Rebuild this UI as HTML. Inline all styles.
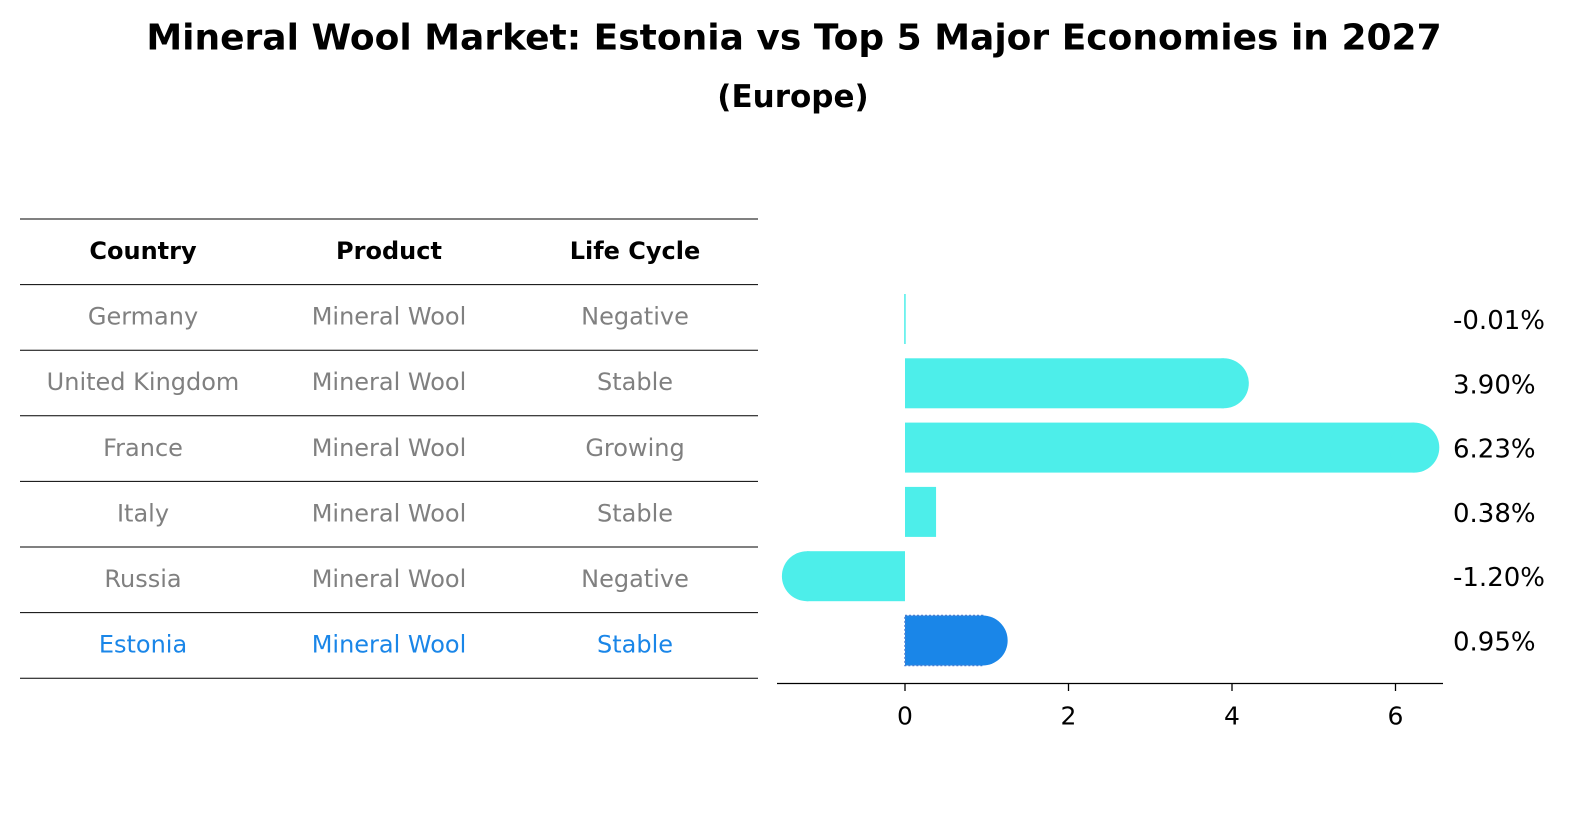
<!DOCTYPE html>
<html><head><meta charset="utf-8"><style>
body{margin:0;background:#fff;font-family:"DejaVu Sans","Liberation Sans",sans-serif;}
svg text{font-family:"DejaVu Sans","Liberation Sans",sans-serif;}
</style></head><body>
<svg id="c" width="1596" height="823">
<text x="794" y="38" text-anchor="middle" dominant-baseline="central" font-size="36" font-weight="bold">Mineral Wool Market: Estonia vs Top 5 Major Economies in 2027</text>
<text x="793" y="97" text-anchor="middle" dominant-baseline="central" font-size="31" font-weight="bold">(Europe)</text>
<g id="tbl"></g>
<g id="bars"></g>
</svg>
<script>
const countries=["Germany","United Kingdom","France","Italy","Russia","Estonia"];
const products=["Mineral Wool","Mineral Wool","Mineral Wool","Mineral Wool","Mineral Wool","Mineral Wool"];
const lifecycle=["Negative","Stable","Growing","Stable","Negative","Stable"];
const values=[-0.01,3.90,6.23,0.38,-1.20,0.95];
const valueLabels=["-0.01%","3.90%","6.23%","0.38%","-1.20%","0.95%"];
const ticks=[0,2,4,6];
const NS="http://www.w3.org/2000/svg";
function mk(p,t,a,txt){const e=document.createElementNS(NS,t);for(const k in a)e.setAttribute(k,a[k]);if(txt!==undefined)e.textContent=txt;p.appendChild(e);return e;}
const tbl=document.getElementById('tbl');
const rowY=i=>219+65.6*i;
for(let i=0;i<=7;i++){const l=mk(tbl,'line',{x1:20,x2:758,y1:rowY(i),y2:rowY(i),stroke:'#000','stroke-width':1});

}
const cx=[143,389,635];
["Country","Product","Life Cycle"].forEach((h,j)=>{const t=mk(tbl,'text',{x:cx[j],y:rowY(0)+32,'text-anchor':'middle','dominant-baseline':'central','font-size':24,'font-weight':'bold'},h);

});
countries.forEach((c,i)=>{const col=i===5?'#1a86e8':'#808080';
[c,products[i],lifecycle[i]].forEach((v,j)=>{const t=mk(tbl,'text',{x:cx[j],y:rowY(i+1)+32,'text-anchor':'middle','dominant-baseline':'central','font-size':24,fill:col},v);

});});
const g=document.getElementById('bars');
const x=v=>905+v*81.75;
const yc=i=>319+64.3*i;
const bh=50,r=25;
values.forEach((v,i)=>{const col=i===5?'#1a86e8':'#4deeea';
const x0=Math.min(x(0),x(v)),w=Math.abs(x(v)-x(0));
const b=mk(g,'rect',{x:x0,y:yc(i)-bh/2,width:Math.max(w,1.5),height:bh,fill:col});


if(i===5)b.setAttribute('stroke','#4a7fd0'),b.setAttribute('stroke-dasharray','2,2'),b.setAttribute('stroke-width','1.5');
if(Math.abs(v)>0.5){const cap=mk(g,'circle',{cx:x(v),cy:yc(i),r:r,fill:col});

}
const t=mk(g,'text',{x:1453,y:yc(i)+2,'dominant-baseline':'central','font-size':26},valueLabels[i]);

});
const ax=mk(g,'line',{x1:777,x2:1443,y1:683.5,y2:683.5,stroke:'#000','stroke-width':1.3});


ticks.forEach(tv=>{const tk=mk(g,'line',{x1:x(tv),x2:x(tv),y1:684,y2:691,stroke:'#000','stroke-width':1.3});


const tl=mk(g,'text',{x:x(tv),y:716,'text-anchor':'middle','dominant-baseline':'central','font-size':25},String(tv));

});
</script>
</body></html>
